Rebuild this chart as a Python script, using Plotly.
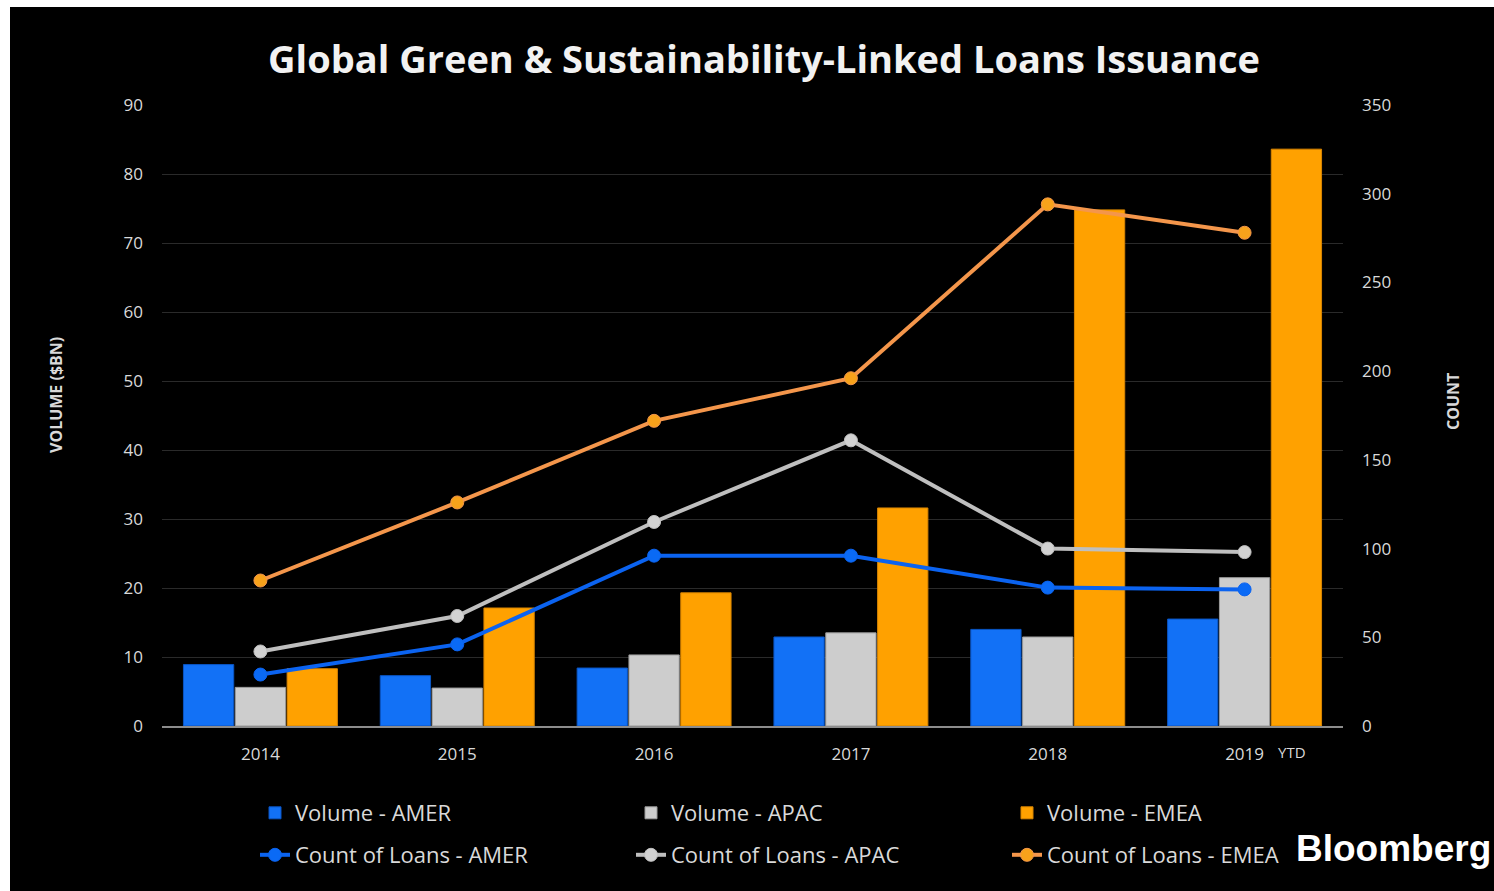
import plotly.graph_objects as go

# Issuance by year and region
years = ["2014", "2015", "2016", "2017", "2018", "2019"]
volume_amer = [8.9, 7.3, 8.4, 12.9, 14.0, 15.5]
volume_apac = [5.6, 5.5, 10.3, 13.5, 12.9, 21.5]
volume_emea = [8.3, 17.1, 19.3, 31.6, 74.8, 83.6]
count_amer = [29, 46, 96, 96, 78, 77]
count_apac = [42, 62, 115, 161, 100, 98]
count_emea = [82, 126, 172, 196, 294, 278]

W, H = 1494, 891
ML, MR, MT, MB = 162, 151, 105, 165
PW, PH = W - ML - MR, H - MT - MB


def px_x(px):
    return (px - ML) / PW


def px_y(py):
    return (H - MB - py) / PH


TXT = "#d9d9d9"
FONT = "Open Sans"

fig = go.Figure()

bar_styles = [
    ("Volume - AMER", volume_amer, "#1271f6", "#0a55c4"),
    ("Volume - APAC", volume_apac, "#cdcdcd", "#9a9a9a"),
    ("Volume - EMEA", volume_emea, "#ffa100", "#d98500"),
]
for name, vals, col, edge in bar_styles:
    fig.add_trace(go.Bar(
        x=years, y=vals, name=name,
        marker=dict(color=col, line=dict(color=edge, width=1)),
        legend="legend", yaxis="y",
    ))

line_styles = [
    ("Count of Loans - AMER", count_amer, "#0b63f0", "#0a6af5"),
    ("Count of Loans - APAC", count_apac, "#bfbfbf", "#d2d2d2"),
    ("Count of Loans - EMEA", count_emea, "#f4964b", "#f7a21b"),
]
for name, vals, lc, mc in line_styles:
    fig.add_trace(go.Scatter(
        x=years, y=vals, name=name, mode="lines+markers",
        line=dict(color=lc, width=4),
        marker=dict(color=mc, size=13, line=dict(color=lc, width=1)),
        legend="legend2", yaxis="y2",
    ))

legend_common = dict(
    orientation="h", entrywidth=331, entrywidthmode="pixels",
    xanchor="left", yanchor="middle",
    bgcolor="rgba(0,0,0,0)", borderwidth=0,
    font=dict(family=FONT, size=22, color=TXT),
    traceorder="normal",
)

fig.update_layout(
    width=W, height=H,
    margin=dict(l=ML, r=MR, t=MT, b=MB, autoexpand=False),
    paper_bgcolor="white",
    plot_bgcolor="black",
    barmode="group", bargap=0.21, bargroupgap=0.03,
    showlegend=True,
    title=dict(
        text="<b>Global Green & Sustainability-Linked Loans Issuance</b>",
        x=764 / W, xref="container", xanchor="center",
        y=1 - 60 / H, yref="container", yanchor="middle",
        font=dict(family=FONT, size=38, color="#f2f2f2"),
    ),
    xaxis=dict(
        type="category", showgrid=False, zeroline=False,
        showline=True, linecolor="#8c8c8c", linewidth=2,
        ticks="", ticklabelstandoff=12,
        tickfont=dict(family=FONT, size=17, color=TXT),
    ),
    yaxis=dict(
        range=[0, 90], dtick=10, showgrid=True, gridcolor="#2a2a2a", gridwidth=1,
        zeroline=False, showline=False, ticks="", ticklabelstandoff=18,
        tickfont=dict(family=FONT, size=17, color=TXT),
    ),
    yaxis2=dict(
        range=[0, 350], dtick=50, overlaying="y", side="right",
        showgrid=False, zeroline=False, showline=False, ticks="",
        ticklabelstandoff=18,
        tickfont=dict(family=FONT, size=17, color=TXT),
    ),
    legend=dict(x=px_x(255), y=px_y(813), **legend_common),
    legend2=dict(x=px_x(255), y=px_y(855), **legend_common),
    shapes=[dict(
        type="rect", xref="paper", yref="paper", layer="below",
        x0=px_x(10), x1=px_x(1500), y0=px_y(900), y1=px_y(7),
        fillcolor="black", line=dict(width=0),
    )],
    annotations=[
        dict(text="<b>VOLUME ($BN)</b>", textangle=-90,
             x=px_x(56), y=px_y(395), xref="paper", yref="paper",
             showarrow=False, xanchor="center", yanchor="middle",
             font=dict(family=FONT, size=16, color=TXT)),
        dict(text="<b>COUNT</b>", textangle=-90,
             x=px_x(1453), y=px_y(402), xref="paper", yref="paper",
             showarrow=False, xanchor="center", yanchor="middle",
             font=dict(family=FONT, size=16, color=TXT)),
        dict(text="YTD",
             x=px_x(1292), y=px_y(752), xref="paper", yref="paper",
             showarrow=False, xanchor="center", yanchor="middle",
             font=dict(family=FONT, size=15, color=TXT)),
        dict(text="<b>Bloomberg</b>",
             x=px_x(1393), y=px_y(848), xref="paper", yref="paper",
             showarrow=False, xanchor="center", yanchor="middle",
             font=dict(family="Liberation Sans", size=37, color="white")),
    ],
)

fig.write_html("out.html")
